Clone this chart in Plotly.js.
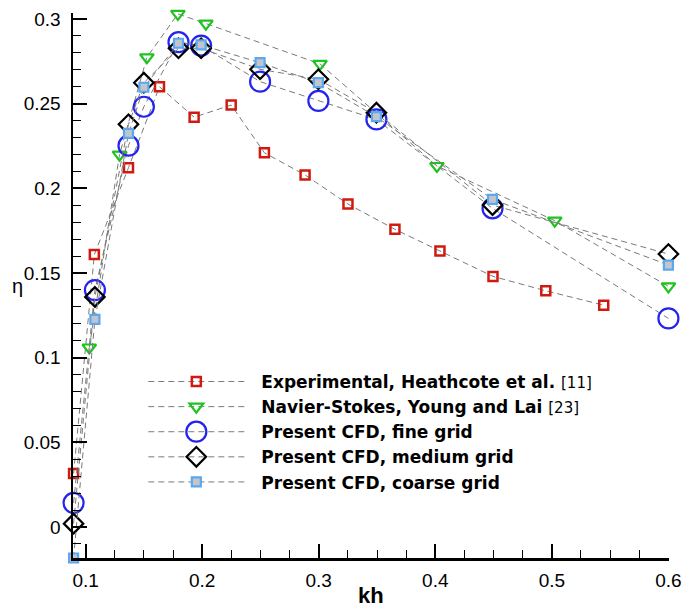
<!DOCTYPE html>
<html>
<head>
<meta charset="utf-8">
<script src="https://cdn.plot.ly/plotly-3.0.1.min.js"></script>
<style>
  html, body { margin: 0; padding: 0; background: #fff; }
  #chart { width: 686px; height: 613px; }
</style>
</head>
<body>
<div id="chart"></div>
<script>
// Propulsive efficiency (eta) versus reduced frequency-amplitude (kh)
const expKh   = [0.0897, 0.1075, 0.1368, 0.1634, 0.1931, 0.2249, 0.2534, 0.2883, 0.3251, 0.3654, 0.4040, 0.4495, 0.4948, 0.5445];
const expEta  = [0.0316, 0.1609, 0.2122, 0.2600, 0.2420, 0.2492, 0.2210, 0.2079, 0.1907, 0.1758, 0.1630, 0.1480, 0.1395, 0.1310];

const nsKh    = [0.1032, 0.1291, 0.1526, 0.1792, 0.2032, 0.3011, 0.4014, 0.5025, 0.6];
const nsEta   = [0.1060, 0.2199, 0.2774, 0.3030, 0.2973, 0.2735, 0.2132, 0.1809, 0.1421];

const cfdKh   = [0.0897, 0.1080, 0.1368, 0.1500, 0.1797, 0.1991, 0.2497, 0.2997, 0.3495, 0.4491, 0.6];
const fineEta   = [0.0142, 0.1399, 0.2252, 0.2482, 0.2863, 0.2843, 0.2630, 0.2516, 0.2407, 0.1882, 0.1232];
const mediumEta = [0.0020, 0.1359, 0.2378, 0.2624, 0.2827, 0.2827, 0.2703, 0.2644, 0.2447, 0.1901, 0.1612];
const coarseEta = [-0.0183, 0.1226, 0.2325, 0.2597, 0.2857, 0.2847, 0.2742, 0.2624, 0.2423, 0.1935, 0.1547];

const refStyle = 'font-weight:normal;font-size:15px';
const seriesNames = [
  'Experimental, Heathcote et al. <span style="' + refStyle + '">[11]</span>',
  'Navier-Stokes, Young and Lai <span style="' + refStyle + '">[23]</span>',
  'Present CFD, fine grid',
  'Present CFD, medium grid',
  'Present CFD, coarse grid'
];

const dashLine = { color: '#7a7a7a', width: 1, dash: '6px,4px' };

const traces = [
  { x: expKh, y: expEta, name: seriesNames[0], mode: 'lines+markers', line: dashLine,
    marker: { symbol: 'square-open', size: 9, color: '#d01a10', line: { width: 2.5, color: '#d01a10' } } },
  { x: nsKh, y: nsEta, name: seriesNames[1], mode: 'lines+markers', line: dashLine,
    marker: { symbol: 'triangle-down-open', size: 12, color: '#1ec41e', line: { width: 2.2, color: '#1ec41e' } } },
  { x: cfdKh, y: fineEta, name: seriesNames[2], mode: 'lines+markers', line: dashLine,
    marker: { symbol: 'circle-open', size: 20, color: '#2424ee', line: { width: 2.2, color: '#2424ee' } } },
  { x: cfdKh, y: mediumEta, name: seriesNames[3], mode: 'lines+markers', line: dashLine,
    marker: { symbol: 'diamond-open', size: 15, color: '#000000', line: { width: 2.2, color: '#000000' } } },
  { x: cfdKh, y: coarseEta, name: seriesNames[4], mode: 'lines+markers', line: dashLine,
    marker: { symbol: 'square', size: 9, color: '#c4c4cc', line: { width: 2.2, color: '#5aa8ee' } } }
].map(t => Object.assign(t, { cliponaxis: false }));

const axisFont = { family: 'Liberation Sans, Arial, sans-serif', size: 19, color: '#000' };

const layout = {
  width: 686, height: 613,
  margin: { l: 73, r: 17, t: 13, b: 55, pad: 0 },
  paper_bgcolor: '#fff', plot_bgcolor: '#fff',
  showlegend: true,
  legend: {
    x: 0.118, y: 0.356, xanchor: 'left', yanchor: 'top',
    bgcolor: 'rgba(0,0,0,0)', borderwidth: 0,
    itemwidth: 108, itemclick: false,
    font: { family: 'DejaVu Sans, sans-serif', size: 17, weight: 'bold', color: '#000' }
  },
  xaxis: {
    range: [0.0892, 0.6005], tick0: 0, dtick: 0.1,
    showgrid: false, zeroline: false,
    showline: true, linecolor: '#000', linewidth: 2.5,
    ticks: 'inside', ticklen: 14, tickwidth: 2, tickcolor: '#000',
    minor: { ticks: 'inside', ticklen: 8, tickwidth: 1, tickcolor: '#000', dtick: 0.025, tick0: 0, showgrid: false },
    tickfont: axisFont, ticklabelstandoff: 4
  },
  yaxis: {
    range: [-0.0183, 0.30355], tick0: 0, dtick: 0.05,
    showgrid: false, zeroline: false,
    showline: true, linecolor: '#000', linewidth: 2.5,
    ticks: 'inside', ticklen: 14, tickwidth: 2, tickcolor: '#000',
    minor: { ticks: 'inside', ticklen: 8, tickwidth: 1, tickcolor: '#000', dtick: 0.01, tick0: 0, showgrid: false },
    tickfont: axisFont, ticklabelstandoff: 6
  },
  annotations: [
    { // x-axis title
      text: 'kh', xref: 'paper', yref: 'paper', x: 0.5, y: -0.069,
      xanchor: 'center', yanchor: 'middle', showarrow: false,
      font: { family: 'Liberation Sans, Arial, sans-serif', size: 22, weight: 'bold', color: '#000' }
    },
    { // y-axis title, kept upright
      text: 'η', xref: 'paper', yref: 'paper', x: -0.081, y: 0.499,
      xanchor: 'right', yanchor: 'middle', showarrow: false,
      font: { family: 'Liberation Sans, Arial, sans-serif', size: 20, color: '#000' }
    }
  ]
};

// Lengthen the legend's dashed sample lines and centre the symbols on them
function styleLegend(gd) {
  gd.querySelectorAll('.legend .traces').forEach(function (item, i) {
    item.querySelectorAll('.legendlines path').forEach(function (p) {
      p.setAttribute('d', 'M5,0h97');
    });
    item.querySelectorAll('.legendpoints path.scatterpts').forEach(function (p) {
      if (i === 2) {
        p.setAttribute('transform', 'translate(53,0) scale(1.25)');
        p.style.strokeWidth = '1.8px';
      } else {
        p.setAttribute('transform', 'translate(53,0)');
      }
    });
  });
}

Plotly.newPlot('chart', traces, layout, { displayModeBar: false, staticPlot: true })
  .then(styleLegend);
</script>
</body>
</html>
